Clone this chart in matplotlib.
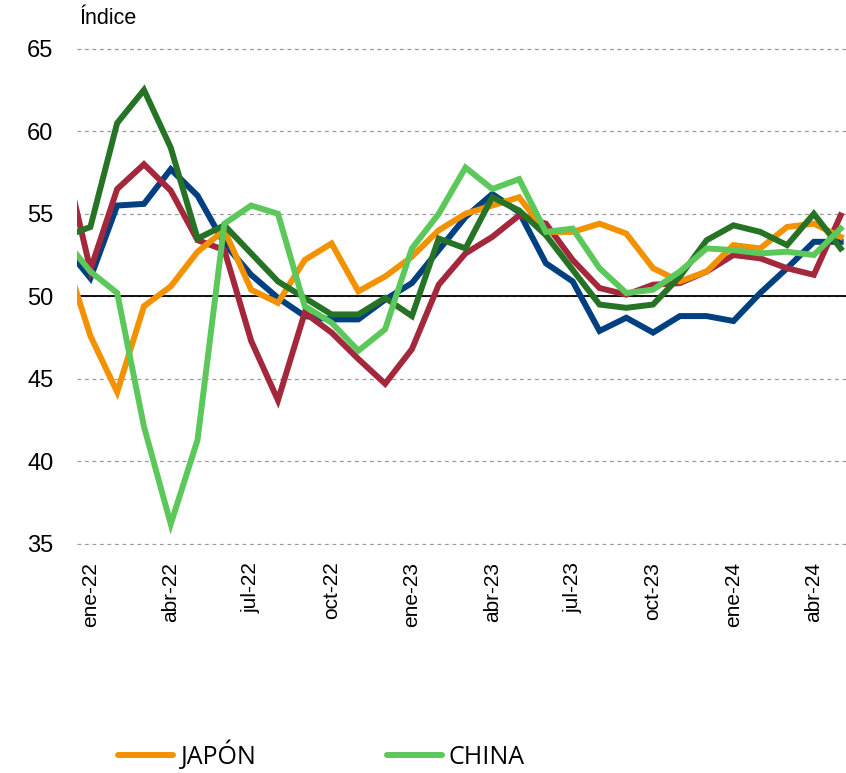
import matplotlib
matplotlib.use("Agg")
import matplotlib.pyplot as plt

# months from dic-21 to may-24 (dic-21 sits just outside the left edge)
months = ["dic-21",
          "ene-22", "feb-22", "mar-22", "abr-22", "may-22", "jun-22", "jul-22", "ago-22", "sep-22", "oct-22", "nov-22", "dic-22",
          "ene-23", "feb-23", "mar-23", "abr-23", "may-23", "jun-23", "jul-23", "ago-23", "sep-23", "oct-23", "nov-23", "dic-23",
          "ene-24", "feb-24", "mar-24", "abr-24", "may-24"]

# index values
azul = [53.1, 51.1, 55.5, 55.6, 57.7, 56.1, 53.2, 51.3, 49.9, 48.8, 48.6, 48.6, 49.8,
        50.8, 52.8, 54.8, 56.2, 55.1, 52.0, 50.9, 47.9, 48.7, 47.8, 48.8, 48.8,
        48.5, 50.2, 51.7, 53.3, 53.3]
verde_osc = [53.6, 54.2, 60.5, 62.5, 59.0, 53.5, 54.3, 52.6, 50.9, 49.9, 48.9, 48.9, 49.9,
             48.8, 53.5, 52.9, 56.0, 55.2, 53.7, 51.6, 49.5, 49.3, 49.5, 51.2, 53.4,
             54.3, 53.9, 53.1, 55.0, 52.9]
rojo = [58.6, 51.6, 56.5, 58.0, 56.4, 53.4, 52.8, 47.3, 43.7, 49.0, 47.8, 46.2, 44.7,
        46.8, 50.7, 52.6, 53.6, 54.9, 54.4, 52.2, 50.5, 50.1, 50.7, 50.8, 51.5,
        52.5, 52.3, 51.7, 51.3, 54.9]
japon = [52.7, 47.6, 44.2, 49.4, 50.6, 52.7, 54.0, 50.4, 49.6, 52.2, 53.2, 50.3, 51.2,
         52.4, 54.0, 55.0, 55.5, 56.0, 53.9, 53.9, 54.4, 53.8, 51.7, 50.9, 51.5,
         53.1, 52.9, 54.2, 54.4, 53.6]
china = [53.5, 51.5, 50.2, 42.1, 36.2, 41.3, 54.4, 55.5, 55.0, 49.4, 48.4, 46.7, 48.0,
         52.9, 55.0, 57.8, 56.5, 57.1, 53.9, 54.1, 51.7, 50.2, 50.4, 51.5, 52.9,
         52.8, 52.6, 52.7, 52.5, 54.1]

x = list(range(-1, len(months) - 1))

plt.rcParams['font.family'] = ['Liberation Sans', 'DejaVu Sans']

fig = plt.figure(figsize=(8.46, 7.73), dpi=100)
ax = fig.add_axes([0.091, 0.295, 0.909, 0.643])

lw = 4.3
ax.plot(x, azul, color='#004080', linewidth=lw, solid_joinstyle='miter')
ax.plot(x, rojo, color='#A3283C', linewidth=lw, solid_joinstyle='miter')
l_jp, = ax.plot(x, japon, color='#F39200', linewidth=lw, solid_joinstyle='miter', label='JAPÓN')
l_cn, = ax.plot(x, china, color='#5CC85C', linewidth=lw, solid_joinstyle='miter', label='CHINA', zorder=3)
ax.plot(x, verde_osc, color='#267326', linewidth=lw, solid_joinstyle='miter')

# reference line at 50
ax.axhline(50, color='black', linewidth=1.3, zorder=1)

ax.set_ylim(34.93, 65.05)
ax.set_xlim(-0.5, 28.2)
ax.set_yticks([35, 40, 45, 50, 55, 60, 65])
ax.yaxis.grid(True, linestyle=(0, (3, 3)), color='#999999', linewidth=0.9)
ax.set_axisbelow(True)

ticks = list(range(0, 28, 3))
ax.set_xticks(ticks)
ax.set_xticklabels([months[t + 1] for t in ticks], rotation=90, fontsize=15)
ax.tick_params(axis='x', length=0, pad=12)
ax.tick_params(axis='y', length=0, pad=17, labelsize=17)

for s in ax.spines.values():
    s.set_visible(False)

fig.text(0.094, 0.963, 'Índice', fontsize=15.5, ha='left', va='bottom')

# legend at the bottom, only two entries
leg = fig.legend(handles=[l_jp, l_cn], loc='center left', bbox_to_anchor=(0.125, 0.023),
                 ncol=2, frameon=False, borderpad=0, handlelength=2.2, handletextpad=0.3,
                 columnspacing=5.2, prop={'family': 'Open Sans', 'size': 18})
for h in leg.legend_handles:
    h.set_solid_capstyle('round')

fig.savefig('out.png', dpi=100)
